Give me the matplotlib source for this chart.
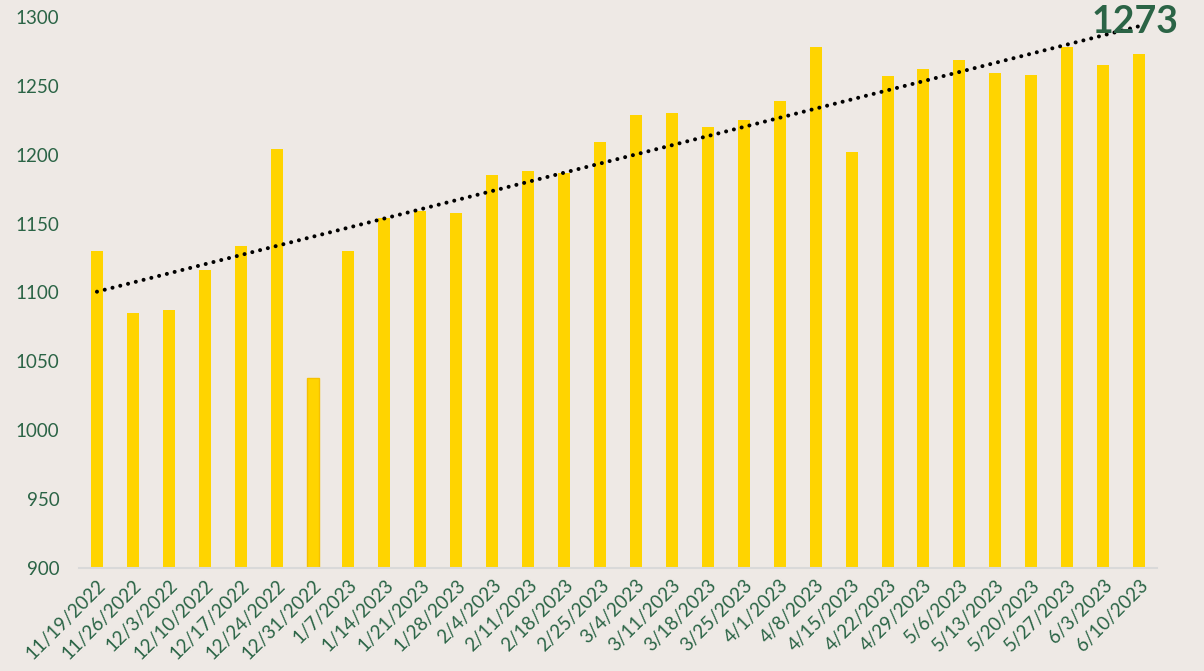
import numpy as np
import matplotlib
matplotlib.use("Agg")
import matplotlib.pyplot as plt

plt.rcParams['font.family'] = ['Lato', 'DejaVu Sans']

dates = ['11/19/2022', '11/26/2022', '12/3/2022', '12/10/2022', '12/17/2022',
         '12/24/2022', '12/31/2022', '1/7/2023', '1/14/2023', '1/21/2023',
         '1/28/2023', '2/4/2023', '2/11/2023', '2/18/2023', '2/25/2023',
         '3/4/2023', '3/11/2023', '3/18/2023', '3/25/2023', '4/1/2023',
         '4/8/2023', '4/15/2023', '4/22/2023', '4/29/2023', '5/6/2023',
         '5/13/2023', '5/20/2023', '5/27/2023', '6/3/2023', '6/10/2023']
values = [1130, 1085, 1087, 1116, 1134, 1204, 1038, 1130, 1154, 1159,
          1158, 1185, 1188, 1187, 1209, 1229, 1230, 1220, 1225, 1239,
          1278, 1202, 1257, 1262, 1269, 1259, 1258, 1278, 1265, 1273]
yticks = [900, 950, 1000, 1050, 1100, 1150, 1200, 1250, 1300]

bg = '#EEE9E5'
green = '#2B6446'
gold = '#FFD400'

fig = plt.figure(figsize=(12.04, 6.71), dpi=100, facecolor=bg)
ax = fig.add_axes([0.0656, 0.1535, 0.8954, 0.8212])
ax.set_facecolor(bg)

x = np.arange(len(values))
bars = ax.bar(x, values, width=0.334, color=gold, zorder=2)
# the 12/31 bar has a faint orange outline in the original
bars[6].set_edgecolor('#F5C000')
bars[6].set_linewidth(1.0)

# linear trendline
k, b = np.polyfit(x, values, 1)
ax.plot(x, k * x + b, color='black', lw=2.9, linestyle=(0, (0.01, 1.98)),
        dash_capstyle='round', zorder=3)

ax.text(x[-1] - 0.12, 1296, str(values[-1]), ha='center', va='center',
        fontsize=27, fontweight='bold', color=green, clip_on=False, zorder=4)

ax.set_ylim(900, 1300)
ax.set_xlim(-0.5, len(values) - 0.5)
ax.set_yticks(yticks)
ax.set_xticks(x)
ax.set_xticklabels(dates, rotation=45, ha='right', rotation_mode='anchor')
ax.tick_params(axis='both', length=0, labelsize=13.5, labelcolor=green)
ax.tick_params(axis='y', pad=14)
ax.tick_params(axis='x', pad=6)

for s in ['top', 'right', 'left']:
    ax.spines[s].set_visible(False)
ax.spines['bottom'].set_color('#D9D9D9')
ax.spines['bottom'].set_linewidth(1.5)

plt.savefig('out.png', dpi=100, facecolor=bg)
